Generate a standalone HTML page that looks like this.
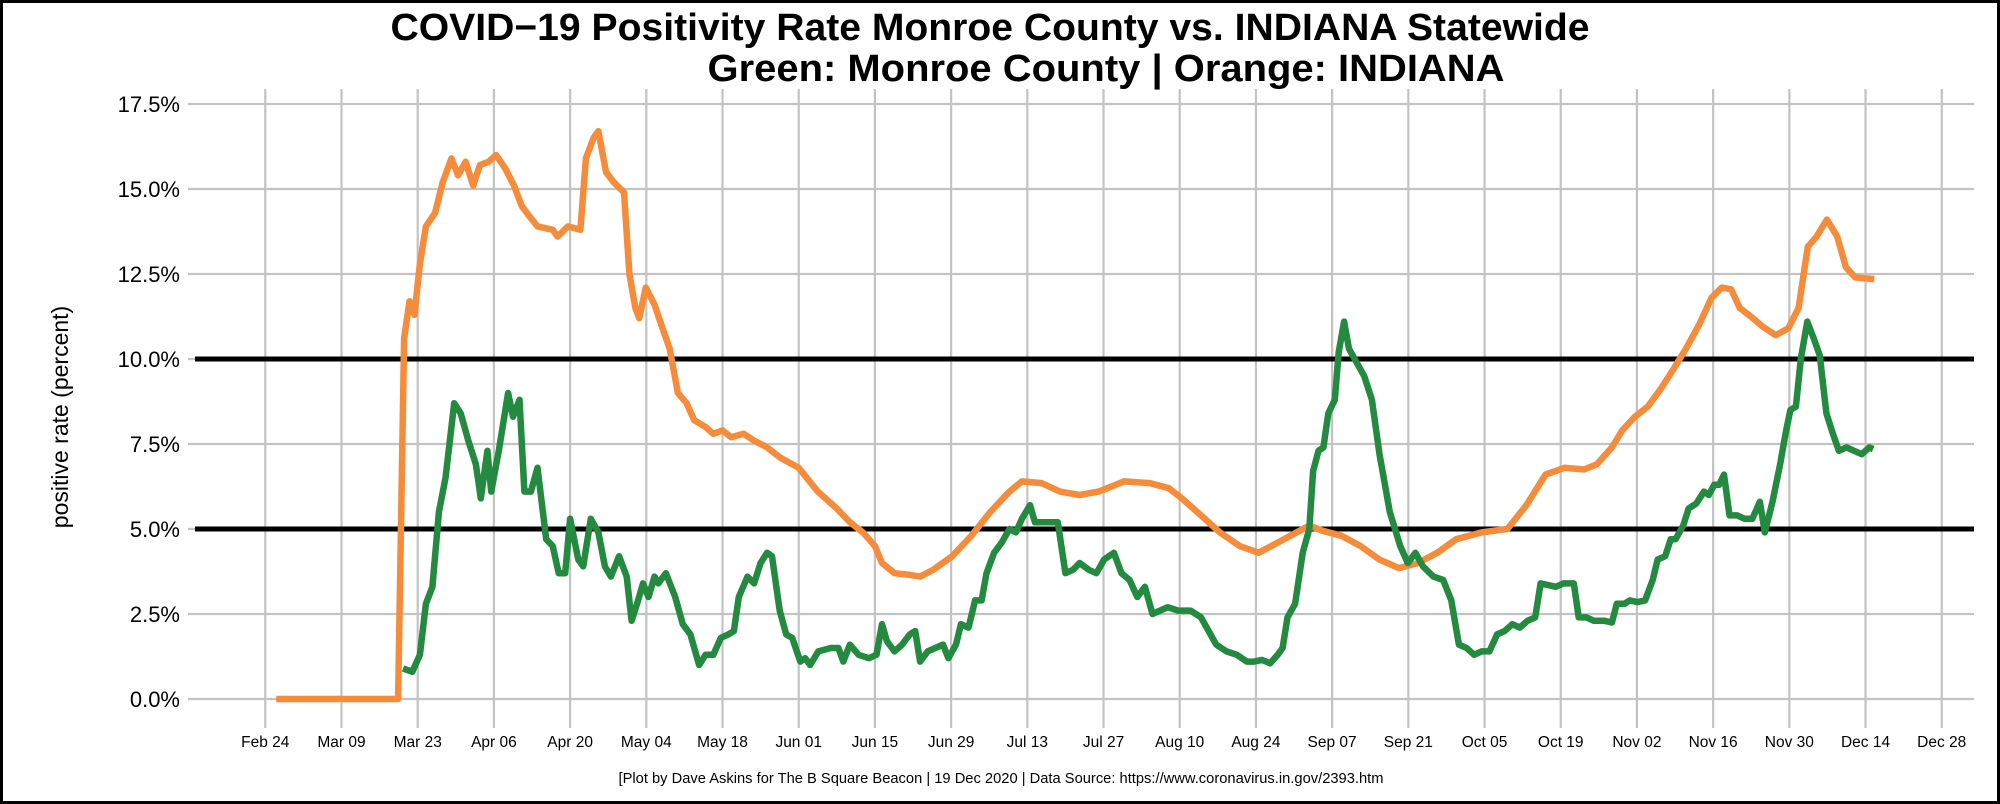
<!DOCTYPE html>
<html><head><meta charset="utf-8">
<style>
html,body{margin:0;padding:0;background:#fff;}
svg{display:block;font-family:"Liberation Sans",Arial,sans-serif;}
</style></head>
<body>
<svg id="chart" width="2000" height="804" viewBox="0 0 2000 804" xmlns="http://www.w3.org/2000/svg">
<rect x="1.5" y="1.5" width="1997" height="801" fill="#fff" stroke="#000" stroke-width="3"/>
<text x="990" y="40" text-anchor="middle" font-size="38" font-weight="bold" textLength="1199" lengthAdjust="spacingAndGlyphs">COVID−19 Positivity Rate Monroe County vs. INDIANA Statewide</text>
<text x="1106" y="81" text-anchor="middle" font-size="38" font-weight="bold" textLength="797" lengthAdjust="spacingAndGlyphs">Green: Monroe County | Orange: INDIANA</text>
<text transform="translate(68,417) rotate(-90)" text-anchor="middle" font-size="23">positive rate (percent)</text>
<text x="1001" y="783" text-anchor="middle" font-size="15" textLength="765" lengthAdjust="spacingAndGlyphs">[Plot by Dave Askins for The B Square Beacon | 19 Dec 2020 | Data Source: https://www.coronavirus.in.gov/2393.htm</text>
<g id="grid"></g>
<g id="refs"></g>
<g id="series"></g>
<g id="labels"></g>
</svg>
<script>
const xTickLabels=["Feb 24","Mar 09","Mar 23","Apr 06","Apr 20","May 04","May 18","Jun 01","Jun 15","Jun 29","Jul 13","Jul 27","Aug 10","Aug 24","Sep 07","Sep 21","Oct 05","Oct 19","Nov 02","Nov 16","Nov 30","Dec 14","Dec 28"];
const yTickValues=[0,2.5,5,7.5,10,12.5,15,17.5];
const refValues=[5,10];
// days since Feb 24
const indianaDays=[2,24.4,25.5,26.5,27.4,28.4,29.5,31.2,32.6,34.2,35.4,36.8,38.2,39.4,41,42.4,44.1,45.7,47.1,48.5,50,52.8,53.7,55.6,57.9,58.9,60.3,61.2,62.6,64,65.9,66.9,68,68.7,69.9,71.5,73,74.3,75.8,77.4,78.8,80.9,82.3,84,85.6,87.9,89.8,92.2,94.6,98,101.5,105,107.4,109.8,112,113.3,115.6,118.4,120.3,122.7,126.2,129.7,133.2,136.7,139,142.6,146,149.6,153.1,157.8,162.5,166,168.4,171.9,175.4,179,182.5,186,189.5,191.8,194.2,197.7,201.2,204.7,208.3,211.8,215.3,218.8,223.5,228.2,231.7,235.2,238.7,242.3,244.6,247.4,249.3,251.6,254,256.3,258.7,261,263.4,265.7,267.6,269.3,270.9,273.3,275.1,277.5,279.8,281.7,283.4,285,286.9,288.8,290.4,292.1,295.6];
const indianaValues=[0,0,10.6,11.7,11.3,12.8,13.9,14.3,15.2,15.9,15.4,15.8,15.1,15.7,15.8,16.0,15.6,15.1,14.5,14.2,13.9,13.8,13.6,13.9,13.8,15.9,16.5,16.7,15.5,15.2,14.9,12.5,11.5,11.2,12.1,11.6,10.9,10.3,9.0,8.7,8.2,8.0,7.8,7.9,7.7,7.8,7.6,7.4,7.1,6.8,6.1,5.6,5.2,4.9,4.5,4.0,3.7,3.65,3.6,3.8,4.2,4.8,5.5,6.1,6.4,6.35,6.1,6.0,6.1,6.4,6.35,6.2,5.9,5.4,4.9,4.5,4.3,4.6,4.9,5.1,4.95,4.8,4.5,4.1,3.85,4.0,4.3,4.7,4.9,5.0,5.7,6.6,6.8,6.75,6.9,7.4,7.9,8.3,8.6,9.1,9.7,10.3,11.0,11.8,12.1,12.05,11.5,11.2,10.95,10.7,10.9,11.5,13.3,13.6,14.1,13.6,12.7,12.4,12.35];
const monroeDays=[25.3,27.0,28.4,29.5,30.7,31.9,33.1,34.7,35.9,37.3,38.7,39.6,40.8,41.5,42.9,44.6,45.5,46.7,47.6,48.8,50.0,51.6,52.8,53.9,55.1,56.0,57.5,58.4,59.8,61.2,62.4,63.5,65.0,66.4,67.3,68.5,69.4,70.4,71.5,72.2,73.6,75.3,76.7,78.1,79.7,80.9,82.3,83.7,85.1,86.1,87.0,88.6,89.8,91.0,92.2,93.1,94.5,95.7,96.8,98.3,99.2,100.1,101.6,103.9,105.3,106.2,107.4,109.0,110.9,112.3,113.3,114.2,115.6,117.0,118.4,119.4,120.3,121.7,123.1,124.5,125.5,126.9,127.8,129.2,130.4,131.6,132.5,133.9,135.3,136.7,137.9,139.0,140.5,141.4,144.2,145.6,147.0,148.4,149.6,151.3,152.7,154.1,155.9,157.3,158.8,160.2,161.6,163.0,164.4,165.8,167.7,170.0,171.9,173.3,174.7,176.6,178.5,180.3,181.7,183.1,184.6,186.0,186.9,187.8,189.2,190.6,191.8,192.5,193.5,194.4,195.3,196.5,197.2,198.2,199.1,200.5,201.9,203.3,204.7,206.6,208.5,209.9,211.3,212.7,214.6,216.4,217.9,219.3,220.7,222.1,223.5,224.9,226.3,227.7,229.1,230.5,231.9,233.3,234.3,235.7,237.1,238.5,240.4,241.3,242.7,244.1,246.0,247.4,248.3,249.7,250.7,252.1,253.5,254.9,255.8,257.2,258.2,259.1,260.5,261.5,262.9,264.3,265.2,266.2,267.1,268.0,269.0,270.4,271.8,273.2,274.6,275.5,276.9,278.3,279.3,280.2,281.2,282.1,283.3,284.5,285.6,286.8,288.0,289.1,290.5,291.9,293.3,294.7,295.4];
const monroeValues=[0.9,0.8,1.3,2.8,3.3,5.5,6.5,8.7,8.4,7.6,6.9,5.9,7.3,6.1,7.3,9.0,8.3,8.8,6.1,6.1,6.8,4.7,4.5,3.7,3.7,5.3,4.1,3.9,5.3,4.9,3.9,3.6,4.2,3.6,2.3,2.9,3.4,3.0,3.6,3.4,3.7,3.0,2.2,1.9,1.0,1.3,1.3,1.8,1.9,2.0,3.0,3.6,3.4,4.0,4.3,4.2,2.6,1.9,1.8,1.1,1.2,1.0,1.4,1.5,1.5,1.1,1.6,1.3,1.2,1.3,2.2,1.7,1.4,1.6,1.9,2.0,1.1,1.4,1.5,1.6,1.2,1.6,2.2,2.1,2.9,2.9,3.7,4.3,4.6,5.0,4.9,5.3,5.7,5.2,5.2,5.2,3.7,3.8,4.0,3.8,3.7,4.1,4.3,3.7,3.5,3.0,3.3,2.5,2.6,2.7,2.6,2.6,2.4,2.0,1.6,1.4,1.3,1.1,1.1,1.15,1.05,1.3,1.5,2.4,2.8,4.3,5.0,6.7,7.3,7.4,8.4,8.8,10.2,11.1,10.3,9.9,9.5,8.8,7.2,5.5,4.5,4.0,4.3,3.9,3.6,3.5,2.9,1.6,1.5,1.3,1.4,1.4,1.9,2.0,2.2,2.1,2.3,2.4,3.4,3.35,3.3,3.4,3.4,2.4,2.4,2.3,2.3,2.25,2.8,2.8,2.9,2.85,2.9,3.5,4.1,4.2,4.7,4.7,5.1,5.6,5.75,6.1,6.0,6.3,6.3,6.6,5.4,5.4,5.3,5.3,5.8,4.9,5.8,6.9,7.8,8.5,8.6,10.0,11.1,10.6,10.1,8.4,7.8,7.3,7.4,7.3,7.2,7.4,7.35];

const NS="http://www.w3.org/2000/svg";
const X0=265.3, DX=5.443, Y0=699, DY=34;
function xScale(d){return X0+d*DX;}
function yScale(v){return Y0-v*DY;}
function mk(tag,attrs,parent){const e=document.createElementNS(NS,tag);for(const k in attrs)e.setAttribute(k,attrs[k]);parent.appendChild(e);return e;}
const gGrid=document.getElementById('grid'),gRefs=document.getElementById('refs'),gSeries=document.getElementById('series'),gLabels=document.getElementById('labels');
const plotLeft=188,plotRight=1974,plotTop=89,plotBottom=728;
yTickValues.forEach(v=>{
  const l=mk('line',{x1:plotLeft,x2:plotRight,y1:yScale(v),y2:yScale(v),stroke:'#c3c3c3','stroke-width':2.2},gGrid);
  
  
  const t=mk('text',{x:180,y:yScale(v)+8,'text-anchor':'end','font-size':22},gLabels);
  t.textContent=v.toFixed(1)+'%';
  
  
});
xTickLabels.forEach((s,i)=>{
  const x=xScale(i*14);
  const l=mk('line',{x1:x,x2:x,y1:plotTop,y2:plotBottom,stroke:'#c3c3c3','stroke-width':2.2},gGrid);
  
  
  const t=mk('text',{x:x,y:747,'text-anchor':'middle','font-size':15.5},gLabels);
  t.textContent=s;
  
  
});
refValues.forEach(v=>{
  const l=mk('line',{x1:195,x2:plotRight,y1:yScale(v),y2:yScale(v),stroke:'#000','stroke-width':5},gRefs);
  
  
});
function pathD(days,vals){return days.map((d,i)=>(i?'L':'M')+xScale(d).toFixed(1)+','+yScale(vals[i]).toFixed(1)).join('');}
const po=mk('path',{d:pathD(indianaDays,indianaValues),fill:'none',stroke:'#f48c3c','stroke-width':6.5,'stroke-linejoin':'round'},gSeries);


const pg=mk('path',{d:pathD(monroeDays,monroeValues),fill:'none',stroke:'#238a40','stroke-width':6.5,'stroke-linejoin':'round'},gSeries);


</script>
</body></html>
